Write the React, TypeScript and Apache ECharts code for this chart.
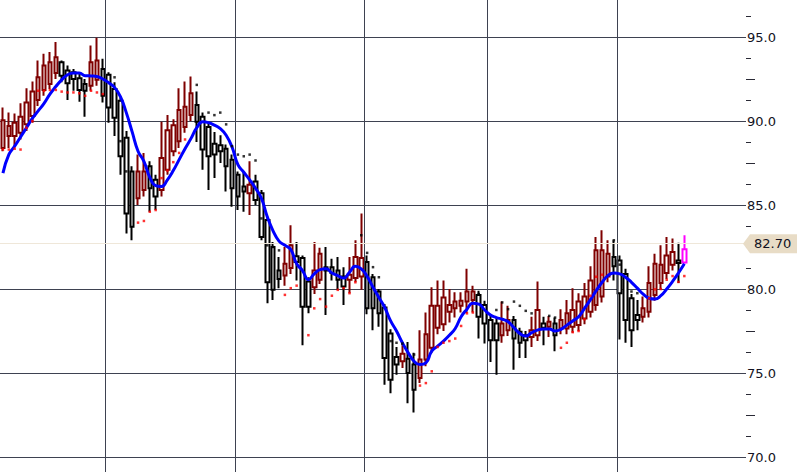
import React, { useEffect, useRef } from 'react';
import * as echarts from 'echarts';

// ---- data ----
const opens = [
  88.4, 89.1, 89.1, 89.3, 89.8, 90.3, 91.25, 91.85, 92.2, 92.85,
  93.5, 93.0, 92.9, 92.55, 92.2, 92.1, 92.45, 93.1, 92.75, 91.9,
  91.2, 89.0, 87.0, 85.4, 85.9, 87.3, 86.5, 85.9, 87.1, 88.2,
  88.8, 89.65, 90.35, 90.95, 90.25, 89.65, 88.65, 88.55, 88.35, 87.7,
  86.8, 86.1, 85.7, 86.4, 85.7, 84.1, 82.5, 81.1, 80.8, 81.25,
  81.95, 81.85, 80.45, 80.1, 80.55, 81.3, 81.3, 81.1, 80.75, 80.55,
  80.65, 80.75, 81.6, 80.7, 79.85, 78.9, 77.35, 75.95, 75.7, 75.85,
  75.5, 74.7, 75.8, 76.5, 77.7, 77.9, 78.65, 78.85, 79.0, 79.25,
  79.35, 79.65, 79.05, 78.15, 77.95, 77.25, 77.55, 78.15, 77.45, 77.25,
  77.15, 77.25, 77.95, 77.75, 77.95, 77.65, 77.65, 77.75, 77.85, 78.25,
  78.65, 79.05, 79.55, 80.75, 81.9, 81.7, 80.9, 79.45, 78.45, 78.35,
  78.65, 79.65, 80.35, 80.95, 81.45, 81.7, 81.57,
];
const closes = [
  90.05, 89.7, 89.9, 90.25, 91.1, 91.75, 92.6, 93.3, 93.5, 93.8,
  92.7, 92.25, 92.5, 91.85, 91.8, 93.5, 93.6, 91.5, 90.8, 90.2,
  87.9, 84.5, 83.7, 87.0, 87.0, 86.0, 85.5, 87.8, 89.45, 89.75,
  90.65, 90.85, 91.65, 89.95, 88.3, 87.9, 88.0, 88.2, 87.3, 86.0,
  85.5, 85.8, 86.2, 85.3, 83.1, 80.4, 79.95, 80.6, 81.5, 82.6,
  81.6, 78.95, 78.95, 81.1, 82.1, 81.1, 80.95, 80.55, 80.15, 80.85,
  81.9, 81.85, 78.85, 78.85, 78.55, 75.9, 74.6, 75.5, 76.15, 75.0,
  74.0, 75.8, 77.3, 79.0, 79.0, 79.5, 79.05, 79.25, 79.3, 79.85,
  79.85, 78.35, 77.95, 76.95, 76.95, 77.95, 78.15, 77.05, 76.8, 76.95,
  77.55, 78.75, 77.7, 78.05, 77.25, 78.15, 78.55, 78.75, 79.25, 79.55,
  80.5, 82.3, 82.3, 82.1, 81.35, 79.75, 78.15, 77.55, 78.15, 78.85,
  80.35, 81.5, 81.45, 82.0, 82.2, 81.55, 82.36,
];
const lows = [
  88.2, 88.4, 88.5, 88.9, 89.4, 89.9, 90.9, 91.5, 91.9, 92.5,
  92.3, 91.25, 91.8, 91.15, 90.25, 91.8, 92.1, 91.1, 89.9, 89.1,
  86.8, 83.3, 82.9, 85.0, 85.5, 84.6, 84.7, 85.5, 86.8, 87.9,
  88.4, 89.3, 90.0, 88.75, 87.1, 85.9, 86.6, 87.5, 85.8, 84.9,
  84.7, 84.6, 84.4, 85.0, 82.9, 79.15, 79.35, 80.05, 80.2, 80.9,
  80.5, 76.65, 78.55, 79.7, 80.3, 78.45, 80.5, 79.95, 79.05, 79.75,
  80.4, 79.95, 78.5, 77.55, 77.75, 74.3, 73.8, 74.9, 75.3, 73.2,
  72.65, 74.4, 75.4, 76.2, 77.3, 77.5, 78.0, 78.3, 78.6, 78.55,
  78.6, 77.05, 76.75, 75.65, 74.9, 76.8, 77.2, 75.2, 75.9, 75.9,
  76.55, 76.9, 76.65, 77.15, 76.3, 77.3, 77.3, 77.4, 77.5, 77.9,
  78.3, 78.7, 79.2, 80.4, 80.5, 77.0, 76.8, 76.55, 77.55, 78.0,
  78.3, 79.3, 80.0, 80.6, 81.1, 80.35, 81.5,
];
const highs = [
  90.8, 90.5, 90.45, 91.05, 91.95, 92.35, 93.6, 94.0, 94.1, 94.7,
  93.6, 93.3, 93.1, 92.8, 92.5, 94.5, 94.95, 93.7, 92.9, 92.3,
  91.4, 89.4, 87.3, 88.0, 88.1, 87.6, 86.8, 89.95, 90.35, 90.1,
  91.95, 92.35, 92.65, 91.75, 90.5, 89.9, 89.35, 89.15, 88.6, 88.0,
  87.0, 87.0, 87.6, 86.8, 85.9, 84.3, 82.8, 81.9, 82.5, 83.8,
  82.8, 82.0, 80.7, 82.8, 82.45, 82.5, 81.8, 81.9, 81.3, 81.9,
  82.9, 84.5, 82.0, 80.9, 80.0, 79.1, 77.6, 76.55, 76.8, 76.85,
  76.2, 77.55, 78.6, 80.1, 80.5, 80.5, 80.0, 79.8, 79.8, 81.2,
  80.2, 79.9, 79.3, 78.4, 78.3, 79.25, 79.0, 78.4, 77.7, 77.5,
  78.35, 80.45, 78.35, 78.4, 78.3, 78.8, 79.35, 80.05, 79.75, 80.35,
  81.35, 83.1, 83.5, 82.9, 82.9, 82.0, 81.2, 79.7, 79.35, 79.55,
  81.35, 82.1, 82.6, 83.1, 83.0, 82.75, 83.2,
];
const movingAvg = [
  86.9, 88.0, 88.5, 89.05, 89.6, 90.15, 90.6, 91.05, 91.6, 92.05,
  92.45, 92.75, 92.85, 92.85, 92.7, 92.68, 92.65, 92.5, 92.28, 92.0,
  91.45, 90.5, 89.35, 88.2, 87.6, 86.65, 86.15, 86.1, 86.5, 87.05,
  87.7, 88.35, 88.95, 89.6, 89.95, 89.9, 89.75, 89.55, 89.15, 88.45,
  87.4, 86.95, 86.5, 86.0, 85.4, 84.3, 83.45, 82.85, 82.6, 82.35,
  81.5, 81.1, 80.55, 80.9, 81.15, 81.2, 80.95, 80.8, 80.65, 81.0,
  81.35, 81.2, 80.75, 80.1, 79.5, 78.9, 78.1, 77.5, 76.8, 76.2,
  75.7, 75.5, 75.6, 76.3, 76.6, 76.9, 77.25, 77.65, 78.35, 78.8,
  79.15, 79.1, 78.75, 78.45, 78.3, 78.2, 78.05, 77.7, 77.35, 77.2,
  77.4, 77.55, 77.62, 77.62, 77.5, 77.6, 77.85, 78.1, 78.35, 78.85,
  79.35, 79.9, 80.4, 80.8, 80.95, 80.9, 80.7, 80.4, 80.05, 79.7,
  79.45, 79.4, 79.6, 80.0, 80.45, 80.95, 81.5,
];
// parabolic-stop dots below price (red) and above price (black); null = no dot
const sarBelow: (number | null)[] = [
  88.3, 88.3, 88.35, 88.3, 89.6, 90.0, 91.8, 91.8, 91.85, 91.85,
  91.75, 91.7, 91.7, 91.65, 91.5, 91.8, 91.7, 91.6, null, null,
  null, null, null, 83.95, 84.05, 84.6, 84.7, 86.6, 87.05, 87.55,
  88.1, 88.9, null, null, null, null, null, null, null, null,
  null, null, null, null, null, null, null, null, 79.65, 80.05,
  80.2, null, 77.25, 78.85, 79.4, 78.95, 79.6, 79.95, 80.05, 79.75,
  80.4, null, null, null, null, null, null, null, null, null,
  null, 74.25, 74.4, 75.1, 76.55, 76.8, 76.9, 77.05, 77.8, 78.55,
  78.6, null, null, null, null, null, null, null, null, null,
  null, null, null, null, null, 76.5, 76.8, 77.43, 77.5, 78.2,
  79.6, 80.73, 80.85, null, null, null, null, null, null, null,
  79.45, 79.98, 80.0, 80.55, 80.77, 80.42, 80.77,
];
const sarAbove: (number | null)[] = [
  null, null, null, null, null, null, null, null, null, null,
  null, null, null, null, null, null, null, null, null, 92.6,
  88.8, 87.0, null, null, null, null, null, null, null, null,
  null, null, null, 92.15, null, 90.5, 90.35, 90.5, 89.8, 88.5,
  88.0, 87.9, 88.0, 87.65, 84.2, 82.6, 82.5, 82.3, null, null,
  null, null, null, null, null, null, null, null, null, null,
  null, 83.2, 82.15, 81.3, 80.7, null, 76.9, 76.8, 76.75, null,
  76.1, null, null, null, null, null, null, null, null, null,
  null, 79.7, null, null, 78.75, 79.2, 78.8, 79.25, 79.0, 78.7,
  78.55, null, null, 78.4, 78.3, null, null, null, null, null,
  null, null, null, null, 82.9, 81.45, null, 79.85, 79.75, null,
  null, null, null, null, null, null, null,
];
// first trading slot of each month (vertical grid lines sit on these boundaries)
const monthStarts = [18, 40, 62, 83, 105];
const SLOTS = 127;
const categories = Array.from({ length: SLOTS }, (_, i) => `D${i + 1}`);
const LAST_PRICE = 82.7;
const LABEL_MIN = 70;
const LABEL_MAX = 95;

const GRID_COLOR = '#3e4251';
const TICK_COLOR = '#2a2a35';
const FONT = '"DejaVu Sans", Verdana, sans-serif';

// The chart canvas is taller than the window and shifted up (inside a clipping
// frame), so the visible window shows the 69..97 price band like the reference.
const SHIFT_TOP = 89;
const CANVAS_H = 630;

export default function App() {
  const ref = useRef<HTMLDivElement>(null);

  useEffect(() => {
    if (!ref.current) return;
    const chart = echarts.init(ref.current, null, { renderer: 'svg' });
    const last = opens.length - 1;
    const candleData = opens.map((o, i) => {
      const v = [o, closes[i], lows[i], highs[i]];
      if (i === last) {
        return {
          value: v,
          itemStyle: { color: '#ffffff', color0: '#ffffff', borderColor: '#ff00ff', borderColor0: '#ff00ff' },
        };
      }
      return v;
    });
    const toScatter = (arr: (number | null)[]) => arr.map((v) => (v == null ? '-' : v));

    chart.setOption({
      animation: false,
      backgroundColor: '#ffffff',
      grid: [
        { left: 0, right: 66, top: 42, bottom: 0 },
        { left: 0, right: 66, top: 0, bottom: 42 },
      ],
      xAxis: [
        {
          type: 'category',
          gridIndex: 0,
          data: categories,
          boundaryGap: true,
          axisLine: { show: false },
          axisTick: { show: false },
          axisLabel: { show: false },
          splitLine: { show: false },
        },
        { type: 'value', gridIndex: 1, min: 0, max: SLOTS, show: false },
      ],
      yAxis: [
        {
          type: 'value',
          gridIndex: 0,
          position: 'right',
          min: 65,
          max: 100,
          interval: 5,
          axisLine: { show: false, onZero: false },
          axisTick: { show: false },
          minorTick: { show: true, splitNumber: 4, length: 5, lineStyle: { color: TICK_COLOR, width: 1 } },
          minorSplitLine: { show: false },
          splitLine: { show: true, lineStyle: { color: GRID_COLOR, width: 1 } },
          axisLabel: {
            show: true,
            margin: 1,
            color: '#121222',
            fontSize: 13,
            fontFamily: FONT,
            formatter: (v: number) => (v < LABEL_MIN || v > LABEL_MAX ? '' : v.toFixed(1)),
          },
        },
        {
          type: 'value',
          gridIndex: 1,
          position: 'right',
          min: 67.5,
          max: 102.5,
          interval: 5,
          axisLine: { show: false, onZero: false },
          axisTick: { show: true, length: 9, lineStyle: { color: TICK_COLOR, width: 1 } },
          axisLabel: { show: false },
          splitLine: { show: false },
        },
      ],
      series: [
        {
          // vertical month grid lines, on the slot-boundary value axis
          type: 'line',
          xAxisIndex: 1,
          yAxisIndex: 1,
          data: [],
          z: 1,
          markLine: {
            silent: true,
            symbol: ['none', 'none'],
            label: { show: false },
            lineStyle: { color: GRID_COLOR, width: 1, type: 'solid' },
            data: monthStarts.map((m) => ({ xAxis: m })),
          },
        },
        {
          type: 'line',
          data: [],
          z: 1,
          markLine: {
            silent: true,
            symbol: ['none', 'none'],
            label: { show: false },
            lineStyle: { color: '#efe7d9', width: 1, type: 'solid' },
            data: [{ yAxis: LAST_PRICE }],
          },
        },
        {
          type: 'candlestick',
          data: candleData,
          barWidth: 4,
          z: 3,
          itemStyle: {
            color: '#ffffff',
            color0: '#ffffff',
            borderColor: '#7f0000',
            borderColor0: '#000000',
            borderWidth: 2,
          },
        },
        {
          type: 'line',
          data: movingAvg,
          smooth: true,
          symbol: 'none',
          z: 5,
          lineStyle: { color: '#0000ff', width: 3 },
        },
        {
          type: 'scatter',
          data: toScatter(sarBelow),
          symbol: 'rect',
          symbolSize: 2.5,
          z: 6,
          itemStyle: { color: '#ff0000' },
        },
        {
          type: 'scatter',
          data: toScatter(sarAbove),
          symbol: 'rect',
          symbolSize: 2.5,
          z: 6,
          itemStyle: { color: '#000000' },
        },
      ],
    });

    const y = chart.convertToPixel({ yAxisIndex: 0 }, LAST_PRICE) as number;
    chart.setOption({
      graphic: [
        {
          type: 'polygon',
          z: 20,
          shape: { points: [[743, y], [750, y - 9.5], [797, y - 9.5], [797, y + 9.5], [750, y + 9.5]] },
          style: { fill: '#e8dcc6' },
        },
        {
          type: 'text',
          z: 21,
          x: 754,
          y: y,
          style: { text: LAST_PRICE.toFixed(2), fill: '#111122', font: `13px ${FONT}`, verticalAlign: 'middle' },
        },
      ],
    });

    return () => chart.dispose();
  }, []);

  return (
    <div style={{ position: 'fixed', left: 0, top: 0, width: 812, height: 472, overflow: 'hidden', background: '#fff' }}>
      <div
        ref={ref}
        style={{ position: 'absolute', left: 0, top: -SHIFT_TOP, width: 812, height: CANVAS_H }}
      />
    </div>
  );
}
